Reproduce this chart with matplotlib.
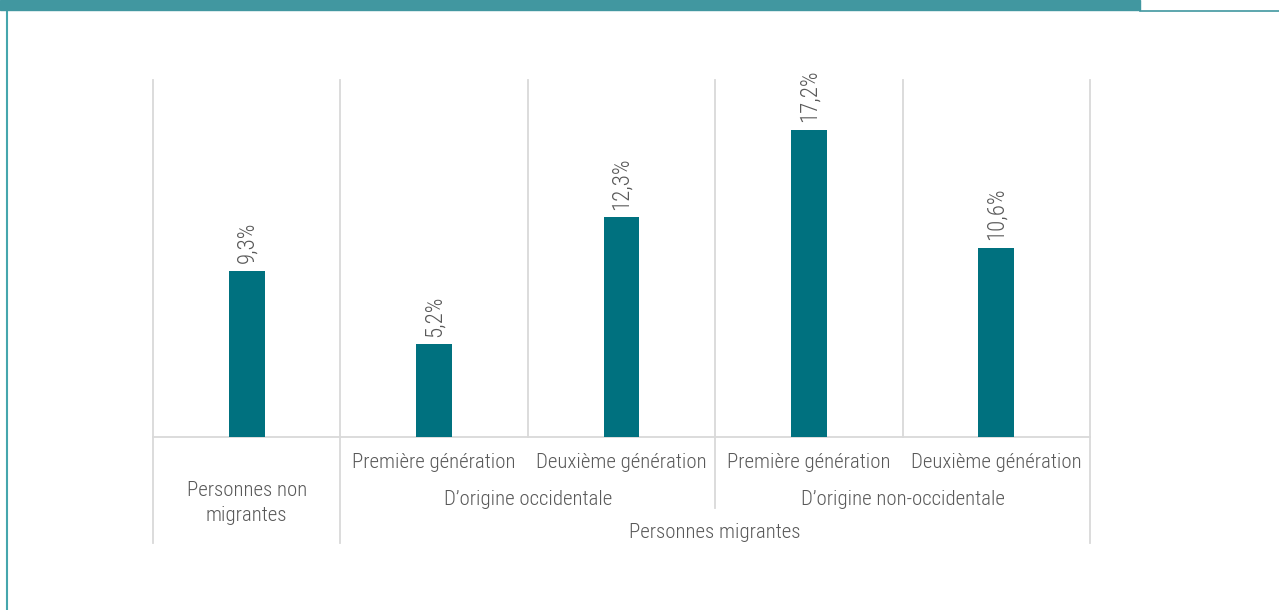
import matplotlib
matplotlib.use('Agg')
from matplotlib import pyplot as plt
from matplotlib import font_manager
from matplotlib.patches import Rectangle
from matplotlib.lines import Line2D

names = {f.name for f in font_manager.fontManager.ttflist}
fams = [f for f in ['Roboto Condensed', 'Liberation Sans Narrow', 'Roboto'] if f in names] + ['DejaVu Sans']
plt.rcParams['font.family'] = fams
plt.rcParams['font.weight'] = 'light'

# data
sous_groupes = ['Personnes non\nmigrantes', 'Première génération', 'Deuxième génération',
                'Première génération', 'Deuxième génération']
valeurs = [9.3, 5.2, 12.3, 17.2, 10.6]
origines = ['D\u2019origine occidentale', 'D\u2019origine non-occidentale']
groupe = 'Personnes migrantes'

bar_color = '#00717f'
grid_color = '#d9d9d9'
text_color = '#595959'
teal = '#4197a0'
fs = 15

fig = plt.figure(figsize=(12.79, 6.10), dpi=100)
ax = fig.add_axes([153 / 1279, 1 - 437 / 610, (1090 - 153) / 1279, (437 - 80) / 610])

x = list(range(len(valeurs)))
ax.bar(x, valeurs, width=0.19, color=bar_color, zorder=3)
for xi, v in zip(x, valeurs):
    ax.annotate(f'{v:.1f}%'.replace('.', ','), (xi, v), xytext=(0, 5.5), textcoords='offset points',
                rotation=90, ha='center', va='bottom', fontsize=16.5, color=text_color)

ax.set_xlim(-0.5, len(valeurs) - 0.5)
ax.set_ylim(0, 20)
ax.set_xticks([])
ax.set_yticks([])
for s in ax.spines.values():
    s.set_visible(False)

tr = ax.get_xaxis_transform()
# vertical separators inside the plot
for b in [i - 0.5 for i in range(len(valeurs) + 1)]:
    ax.plot([b, b], [0, 1], transform=tr, color=grid_color, lw=1.3, zorder=1, clip_on=False)
ax.plot([-0.5, 4.5], [0, 0], transform=tr, color=grid_color, lw=1.3, clip_on=False)
# separators under the axis
for b, depth in [(-0.5, -0.297), (0.5, -0.297), (2.5, -0.199), (4.5, -0.297)]:
    ax.plot([b, b], [0, depth], transform=tr, color=grid_color, lw=1.3, clip_on=False)

# category labels
for xi, lab in zip(x[1:], sous_groupes[1:]):
    ax.text(xi, -0.072, lab, transform=tr, ha='center', va='center', fontsize=fs, color=text_color)
ax.text(0, -0.185, sous_groupes[0], transform=tr, ha='center', va='center', fontsize=fs,
        color=text_color, linespacing=1.45)
ax.text(1.5, -0.174, origines[0], transform=tr, ha='center', va='center', fontsize=fs, color=text_color)
ax.text(3.5, -0.174, origines[1], transform=tr, ha='center', va='center', fontsize=fs, color=text_color)
ax.text(2.5, -0.267, groupe, transform=tr, ha='center', va='center', fontsize=fs, color=text_color)

# frame decoration
fig.patches.append(Rectangle((0, 1 - 10 / 610), 1140 / 1279, 10 / 610, transform=fig.transFigure,
                             color=teal, zorder=5))
fig.lines.append(Line2D([1140 / 1279, 1], [1 - 10.5 / 610] * 2, transform=fig.transFigure,
                        color=teal, lw=1.2))
fig.lines.append(Line2D([6.5 / 1279] * 2, [0, 1 - 10 / 610], transform=fig.transFigure,
                        color='#45a6ad', lw=1.5))

fig.savefig('out.png', dpi=100)
